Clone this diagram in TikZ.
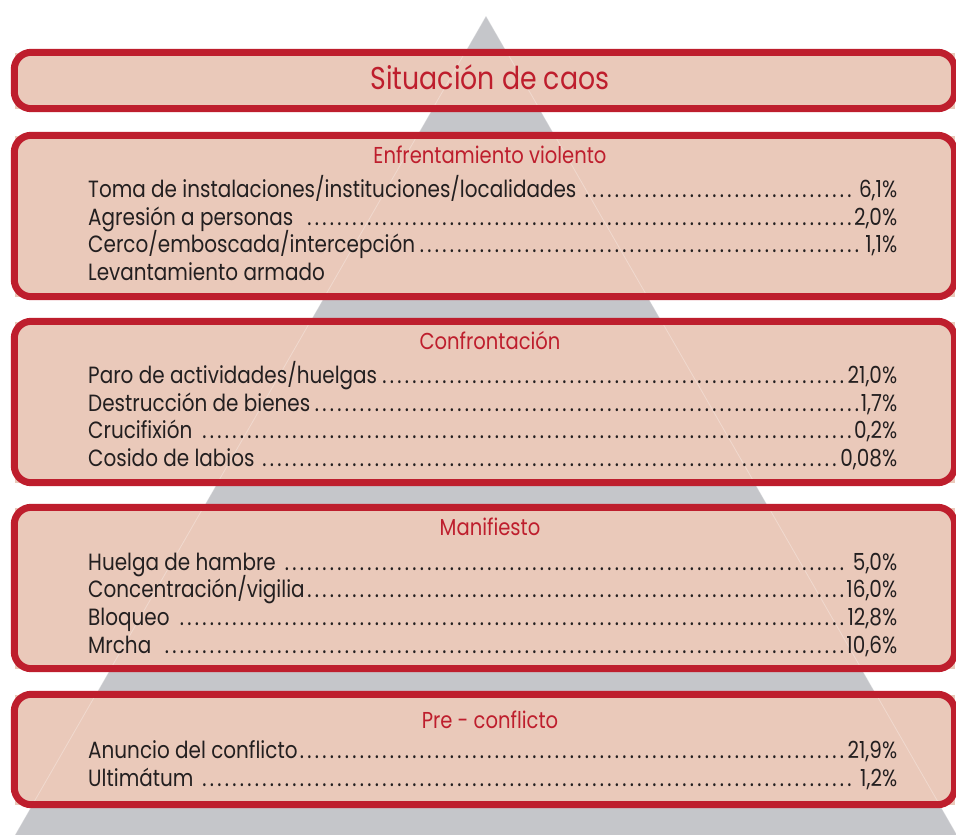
\documentclass[tikz,border=0pt]{standalone}
\usepackage{fontspec}
\setmainfont{Poppins}[FakeStretch=0.85]
\usepackage{xcolor}

\definecolor{rojo}{HTML}{BE1E2D}
\definecolor{rosa}{HTML}{EAC9BA}
\definecolor{gris}{HTML}{C5C6CA}
\definecolor{tinta}{HTML}{231F20}

% dot leaders for the rows
\newcommand\puntos{\leaders\hbox to 7.5pt{\hss.\hss}\hfill}
\newcommand\fila[2]{\hbox to 809pt{#1\puntos#2}}

\begin{document}
\begin{tikzpicture}[
          x=1pt, y=-1pt,
          every node/.style={inner sep=0pt},
          tier/.style={rectangle, fill=rosa, minimum width=940pt},
          borde/.style={draw=rojo, line width=7pt, rounded corners=17pt},
          titulo/.style={text=rojo, font=\fontsize{31.5}{36}\selectfont, anchor=base},
          cabeza/.style={text=rojo, font=\fontsize{23}{27}\selectfont, anchor=base},
          item/.style={text=tinta, font=\fontsize{23.5}{28}\selectfont, anchor=base west}
        ]
          \useasboundingbox (0,0) rectangle (956,835);
          \clip (0,0) rectangle (956,835);

          % Pyramid
          \fill[gris] (486,16) -- (15,835) -- (957,835) -- cycle;

          % Tiers
          \node[tier, minimum height=56pt] (caos) at (484.5,80.5) {};
          \node[tier, minimum height=161pt] (violento) at (484.5,216) {};
          \node[tier, minimum height=161pt] (confront) at (484.5,402) {};
          \node[tier, minimum height=161pt] (manif) at (484.5,588) {};
          \node[tier, minimum height=110pt] (pre) at (484.5,749.5) {};

          \draw[white, opacity=0.3, line width=0.8pt] (486,16) -- (15,835);
          \draw[white, opacity=0.3, line width=0.8pt] (486,16) -- (957,835);

          \foreach \t in {caos, violento, confront, manif, pre}
            \draw[borde] (\t.north west) rectangle (\t.south east);

          % Situacion de caos
          \node[titulo] (tcaos) at (490,89) {Situación de caos};

          % Enfrentamiento violento
          \node[cabeza] (hviol) at (490,163) {Enfrentamiento violento};
          \node[item] (toma) at (88,197) {\fila{Toma de instalaciones/instituciones/localidades}{6,1\%}};
          \node[item] (agresion) at (88,225) {\fila{Agresión a personas }{2,0\%}};
          \node[item] (cerco) at (88,252) {\fila{Cerco/emboscada/intercepción}{1,1\%}};
          \node[item] (levant) at (88,280) {Levantamiento armado};

          % Confrontacion
          \node[cabeza] (hconf) at (490,349) {Confrontación};
          \node[item] (paro) at (88,383) {\fila{Paro de actividades/huelgas}{21,0\%}};
          \node[item] (destr) at (88,411) {\fila{Destrucción de bienes}{1,7\%}};
          \node[item] (cruci) at (88,438) {\fila{Crucifixión }{0,2\%}};
          \node[item] (cosido) at (88,466) {\fila{Cosido de labios }{0,08\%}};

          % Manifiesto
          \node[cabeza] (hmanif) at (490,535) {Manifiesto};
          \node[item] (huelga) at (88,570) {\fila{Huelga de hambre }{5,0\%}};
          \node[item] (concen) at (88,597) {\fila{Concentración/vigilia}{16,0\%}};
          \node[item] (bloqueo) at (88,625) {\fila{Bloqueo }{12,8\%}};
          \node[item] (marcha) at (88,653) {\fila{Mrcha }{10,6\%}};

          % Pre - conflicto
          \node[cabeza] (hpre) at (490,728) {Pre - conflicto};
          \node[item] (anuncio) at (88,758) {\fila{Anuncio del conflicto}{21,9\%}};
          \node[item] (ultim) at (88,786) {\fila{Ultimátum}{1,2\%}};

        \end{tikzpicture}
\end{document}
